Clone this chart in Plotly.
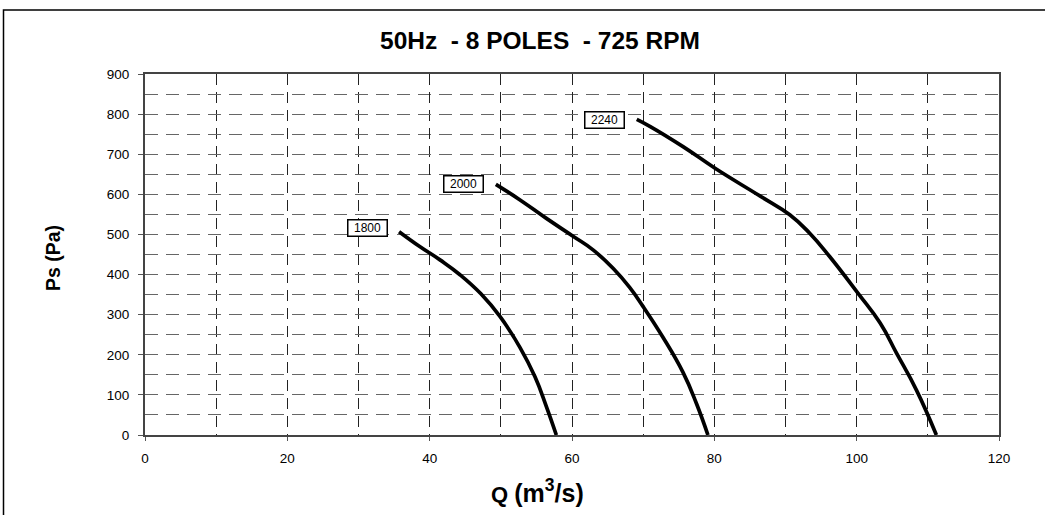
import plotly.graph_objects as go

# ---- data ----
q_1800 = [35.7, 38.6, 41.5, 44.3, 47.2, 49.9, 52.7, 54.8, 56.4, 57.8]
p_1800 = [507, 470, 436, 399, 352, 295, 218, 145, 71, 0]

q_2000 = [49.3, 52.7, 56.4, 60.2, 63.0, 65.8, 68.1, 70.0, 72.8, 75.6, 77.5, 79.1]
p_2000 = [625, 586, 540, 495, 461, 415, 368, 320, 243, 156, 78, 0]

q_2240 = [69.1, 71.0, 75.6, 80.1, 86.4, 90.6, 93.4, 96.2, 100.2, 103.3, 105.6, 108.4, 111.2]
p_2240 = [787, 769, 719, 665, 596, 549, 503, 445, 353, 279, 204, 112, 0]

curve_names = ["1800", "2000", "2240"]
label_q = [31.3, 44.8, 64.6]
label_p = [517, 625, 786]

x_ticks = [0, 20, 40, 60, 80, 100, 120]
y_ticks = [0, 100, 200, 300, 400, 500, 600, 700, 800, 900]

title_text = "50Hz  - 8 POLES  - 725 RPM"
y_title = "Ps (Pa)"

FONT = "Liberation Sans, Arial, sans-serif"

fig = go.Figure()
for q, p, name in zip([q_1800, q_2000, q_2240], [p_1800, p_2000, p_2240], curve_names):
    fig.add_trace(go.Scatter(x=q, y=p, mode="lines", name=name,
                             line=dict(color="black", width=3.7, shape="spline", smoothing=1.3),
                             showlegend=False, hoverinfo="x+y"))

for qx, py, name in zip(label_q, label_p, curve_names):
    fig.add_annotation(x=qx, y=py, xref="x", yref="y", text=name, showarrow=False,
                       font=dict(family=FONT, size=12, color="black"),
                       width=35, height=12, align="center",
                       bgcolor="white", bordercolor="black", borderwidth=1.5, borderpad=1.5)

fig.update_layout(
    width=1045, height=515,
    margin=dict(l=145, r=46, t=74, b=80),
    paper_bgcolor="white", plot_bgcolor="white",
    font=dict(family=FONT, size=13.5, color="black"),
    xaxis=dict(range=[0, 120], tickmode="array", tickvals=x_ticks, ticks="outside", ticklen=4, tickcolor="#555",
               ticklabelstandoff=6,
               showline=True, linecolor="#444", linewidth=2, mirror=True,
               showgrid=True, gridcolor="#222", gridwidth=1, griddash="11px,7px",
               minor=dict(dtick=10, tick0=0, showgrid=True, gridcolor="#222", gridwidth=1, griddash="11px,7px"),
               zeroline=False, tickfont=dict(size=13.5, family=FONT), fixedrange=True),
    yaxis=dict(range=[0, 900], tickmode="array", tickvals=y_ticks, ticks="outside", ticklen=5, tickcolor="#555",
               ticklabelstandoff=6,
               showline=True, linecolor="#444", linewidth=2, mirror=True,
               showgrid=True, gridcolor="#666", gridwidth=1, griddash="13px,8px",
               minor=dict(dtick=50, tick0=0, showgrid=True, gridcolor="#666", gridwidth=1, griddash="13px,8px"),
               zeroline=False, tickfont=dict(size=13.5, family=FONT), fixedrange=True),
)

W = 854.0
H = 361.0
def px(xp):
    return (xp - 145) / W
def py_(yp):
    return (435 - yp) / H

fig.add_annotation(x=px(540), y=py_(40.5), xref="paper", yref="paper", text="<b>" + title_text + "</b>",
                   showarrow=False, font=dict(family=FONT, size=24.5, color="black"),
                   xanchor="center", yanchor="middle")
fig.add_annotation(x=px(537), y=py_(491), xref="paper", yref="paper",
                   text="<b>Q <span style='font-size:25px'>(m<sup>3</sup>/s)</span></b>",
                   showarrow=False, font=dict(family=FONT, size=22, color="black"),
                   xanchor="center", yanchor="middle")
fig.add_annotation(x=px(53), y=py_(258), xref="paper", yref="paper", text="<b>" + y_title + "</b>",
                   textangle=-90, showarrow=False, font=dict(family=FONT, size=19.5, color="black"),
                   xanchor="center", yanchor="middle")

# Outer chart border
fig.add_shape(type="rect", xref="paper", yref="paper",
              x0=px(3.5), x1=px(1060), y0=py_(530), y1=py_(10),
              line=dict(color="black", width=1.5), fillcolor="rgba(0,0,0,0)", layer="below")

fig.write_html("out.html", config={"displayModeBar": False},
               post_script="document.body.style.margin='0';document.body.style.overflow='hidden';")
